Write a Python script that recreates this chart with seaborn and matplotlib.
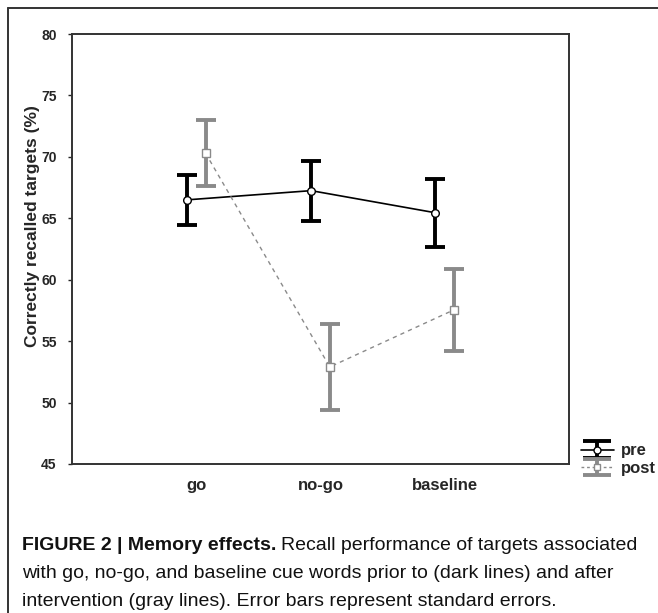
import numpy as np
import pandas as pd
import matplotlib.pyplot as plt
from matplotlib.lines import Line2D
import seaborn as sns

# data
conditions = ['go', 'no-go', 'baseline']
pre_mean = [66.5, 67.25, 65.45]
pre_se = [2.05, 2.43, 2.75]
post_mean = [70.3, 52.9, 57.55]
post_se = [2.7, 3.47, 3.33]
y_ticks = [45, 50, 55, 60, 65, 70, 75, 80]

sns.set_style('white')
plt.rcParams['font.family'] = ['Liberation Sans', 'DejaVu Sans']

x = np.arange(len(conditions))
df = pd.DataFrame({
    'x': np.concatenate([x - 0.075, x + 0.075]),
    'y': pre_mean + post_mean,
    'se': pre_se + post_se,
    'time': ['pre'] * 3 + ['post'] * 3,
})
pre = df[df['time'] == 'pre']
post = df[df['time'] == 'post']

fig = plt.figure(figsize=(6.58, 6.13), dpi=100)
ax = fig.add_axes([0.1094, 0.2431, 0.7553, 0.7014])

dark = '#000000'
gray = '#8a8a8a'

ax.errorbar(pre['x'], pre['y'], yerr=pre['se'], fmt='none',
            ecolor=dark, elinewidth=2.8, capsize=7, capthick=2.8, zorder=2)
ax.errorbar(post['x'], post['y'], yerr=post['se'], fmt='none',
            ecolor=gray, elinewidth=2.8, capsize=7, capthick=2.8, zorder=2)

sns.lineplot(data=pre, x='x', y='y', ax=ax, color='black', linewidth=1.2,
             marker='o', markersize=5.5, markerfacecolor='white',
             markeredgecolor='black', markeredgewidth=1, legend=False, zorder=3)
sns.lineplot(data=post, x='x', y='y', ax=ax, color=gray, linewidth=1,
             linestyle=(0, (3, 3)), marker='s', markersize=5.5,
             markerfacecolor='white', markeredgecolor=gray,
             markeredgewidth=1, legend=False, zorder=3)

ax.set_xlim(-1, 3)
ax.set_ylim(45, 80)
ax.set_xticks(x)
ax.set_xticklabels(conditions, fontsize=12, fontweight='bold')
ax.set_yticks(y_ticks)
ax.set_yticklabels([str(t) for t in y_ticks], fontsize=10, fontweight='bold')
ax.tick_params(axis='x', length=0, pad=10)
ax.tick_params(axis='y', length=3, width=1, direction='out', pad=8, left=True)
ax.set_xlabel('')
ax.set_ylabel('Correctly recalled targets (%)', fontsize=12.5, fontweight='bold')
ax.yaxis.set_label_coords(-0.064, 0.553)
for s in ax.spines.values():
    s.set_color('#333333')
    s.set_linewidth(1.4)

# legend handles: wide-capped error bars like the original
lg_pre = ax.errorbar([np.nan], [np.nan], yerr=[1], fmt='none', ecolor=dark,
                     elinewidth=2.8, capsize=10, capthick=2.8)
lg_post = ax.errorbar([np.nan], [np.nan], yerr=[1], fmt='none', ecolor=gray,
                      elinewidth=2.8, capsize=10, capthick=2.8)
h_pre = Line2D([], [], color='black', linewidth=1.2, marker='o', markersize=5,
               markerfacecolor='white', markeredgecolor='black')
h_post = Line2D([], [], color=gray, linewidth=1, linestyle=(0, (2, 2)), marker='s',
                markersize=5, markerfacecolor='white', markeredgecolor=gray)
ax.legend([(lg_pre, h_pre), (lg_post, h_post)], ['pre', 'post'],
          loc='center left', bbox_to_anchor=(1.0, 0.01), frameon=False,
          prop={'weight': 'bold', 'size': 12}, handlelength=2.0,
          handletextpad=0.4, labelspacing=0.15, borderaxespad=0.3)

# outer frame
fig.add_artist(Line2D([8 / 658, 8 / 658], [0, 1 - 8 / 613], color='#333333', linewidth=1.4))
fig.add_artist(Line2D([8 / 658, 1], [1 - 8 / 613, 1 - 8 / 613], color='#333333', linewidth=1.4))

# caption
cap_font = ['Liberation Sans', 'DejaVu Sans']
cap_size = 14
cx = 22 / 658
bold_t = fig.text(cx, 1 - 545 / 613, 'FIGURE 2 | Memory effects.', fontsize=cap_size,
                  fontweight='bold', family=cap_font, va='center', color='#111111')
fig.canvas.draw()
bb = bold_t.get_window_extent()
fig.text(bb.x1 / fig.bbox.width + 5 / 658, 1 - 545 / 613,
         'Recall performance of targets associated', fontsize=cap_size,
         family=cap_font, va='center', color='#111111')
fig.text(cx, 1 - 573 / 613,
         'with go, no-go, and baseline cue words prior to (dark lines) and after',
         fontsize=cap_size, family=cap_font, va='center', color='#111111')
fig.text(cx, 1 - 601 / 613,
         'intervention (gray lines). Error bars represent standard errors.',
         fontsize=cap_size, family=cap_font, va='center', color='#111111')

fig.savefig('out.png', dpi=100)
